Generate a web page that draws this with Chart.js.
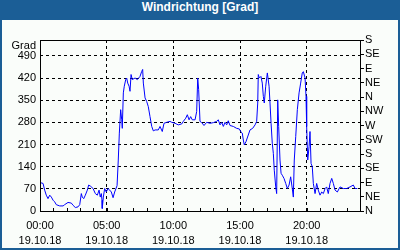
<!DOCTYPE html>
<html><head><meta charset="utf-8">
<script src="https://cdn.jsdelivr.net/npm/chart.js@4.4.1/dist/chart.umd.min.js"></script>
<style>
html,body{margin:0;padding:0;background:#fff;}
#frame{position:relative;width:400px;height:250px;background:#1b5e96;overflow:hidden;}
#title{position:absolute;left:0;top:0;width:400px;height:20px;line-height:20px;text-align:center;color:#fff;font:bold 12px "Liberation Sans",Arial,sans-serif;}
#inner{position:absolute;left:2px;top:20px;width:396px;height:228px;background:#fafdfa;}
canvas{display:block;}
</style></head>
<body>
<div id="frame"><div id="title">Windrichtung [Grad]</div><div id="inner"><canvas id="c" width="396" height="228"></canvas></div></div>
<script>
const chartTitle = 'Windrichtung [Grad]';
const dateLabel = '19.10.18';
const yUnit = 'Grad';
const xTicks = [0, 5, 10, 15, 20];
const yTicks = [0, 70, 140, 210, 280, 350, 420, 490];
const compassTicks = [0, 45, 90, 135, 180, 225, 270, 315, 360, 405, 450, 495, 540];
const compassLabels = ['N','NE','E','SE','S','SW','W','NW','N','NE','E','SE','S'];

const hours = [
  0.00,0.23,0.35,0.47,0.60,0.73,0.85,0.98,1.10,1.22,1.48,1.73,1.85,2.10,2.35,2.48,2.65,2.85,2.98,
  3.10,3.17,3.28,3.40,3.55,3.65,3.80,3.98,4.15,4.30,4.43,4.52,4.60,4.65,4.67,4.75,4.85,4.97,
  5.10,5.23,5.35,5.48,5.60,5.78,5.87,5.95,6.05,6.13,6.17,6.25,6.32,6.43,6.50,6.58,6.68,6.75,6.83,6.92,
  7.13,7.30,7.50,7.63,7.70,7.75,7.88,8.00,8.12,8.25,8.38,8.50,8.63,8.87,9.00,9.17,9.30,9.50,9.75,9.88,
  10.13,10.37,10.63,10.75,10.93,11.05,11.18,11.30,11.42,11.63,11.75,11.83,11.90,12.00,12.13,12.30,12.50,12.75,
  13.00,13.25,13.37,13.50,13.63,13.75,13.88,14.00,14.12,14.25,14.50,14.75,14.95,15.05,15.17,15.25,15.32,15.45,15.62,15.75,15.95,
  16.13,16.25,16.33,16.37,16.45,16.57,16.67,16.75,16.82,16.93,17.05,17.18,17.25,17.33,17.42,17.50,17.57,17.68,17.75,17.83,17.90,
  18.00,18.08,18.17,18.30,18.43,18.55,18.68,18.80,18.92,19.00,19.07,19.18,19.30,19.43,19.55,19.67,19.75,19.88,19.95,
  20.00,20.08,20.18,20.25,20.33,20.42,20.50,20.63,20.75,20.87,21.00,21.13,21.25,21.38,21.50,21.62,21.75,21.88,
  22.00,22.13,22.30,22.50,22.75,23.00,23.25,23.50,23.63,23.80
];
const directions = [
  90,87,66,50,39,50,44,34,29,20,16,16,20,27,25,18,11,13,20,
  55,44,39,50,66,82,78,71,55,50,66,44,55,34,8,44,71,60,
  71,66,60,42,60,80,161,246,320,288,261,373,394,415,420,404,394,378,431,415,
  420,415,425,441,447,404,357,346,330,298,267,253,256,256,267,251,277,280,283,280,
  277,272,275,283,293,304,288,298,288,288,314,420,383,283,279,270,280,277,
  279,283,288,272,280,267,280,272,285,270,267,261,259,251,246,224,209,219,240,256,261,
  272,283,341,431,420,425,404,362,341,394,436,394,341,277,214,182,129,76,55,351,267,
  161,119,113,103,87,71,82,108,71,44,161,235,320,373,404,436,440,420,362,
  267,161,203,251,150,140,87,55,87,66,50,60,55,71,76,55,87,103,
  87,66,60,76,71,71,76,82,71,71
];

const font11 = {family: '"Liberation Sans", Arial, sans-serif', size: 11, lineHeight: 15/11};

const framePlugin = {
  id: 'frame',
  afterDraw(chart) {
    const {ctx, chartArea: a, scales} = chart;
    ctx.save();
    ctx.strokeStyle = '#000';
    ctx.lineWidth = 1;
    ctx.strokeRect(Math.round(a.left) + 0.5, Math.round(a.top) + 0.5, Math.round(a.right - a.left), Math.round(a.bottom - a.top));
    ctx.beginPath();
    for (let h = 1; h <= 24; h++) {
      const x = Math.round(scales.x.getPixelForValue(h)) + 0.5;
      ctx.moveTo(x, Math.round(a.bottom));
      ctx.lineTo(x, Math.round(a.bottom) - 3);
    }
    ctx.stroke();
    ctx.fillStyle = '#000';
    ctx.font = '11px "Liberation Sans", Arial, sans-serif';
    ctx.textAlign = 'right';
    ctx.textBaseline = 'middle';
    ctx.fillText(yUnit, a.left - 4, a.top + 6);
    ctx.restore();
  }
};

new Chart(document.getElementById('c'), {
  type: 'line',
  data: {
    datasets: [{
      data: hours.map((h, i) => ({x: h, y: directions[i]})),
      borderColor: '#0000ff',
      borderWidth: 1,
      pointRadius: 0,
      fill: false,
      tension: 0,
      yAxisID: 'y'
    }]
  },
  options: {
    responsive: false,
    animation: false,
    layout: {padding: {top: 20, left: 0, right: 0, bottom: 0}},
    plugins: {legend: {display: false}, tooltip: {enabled: false}, title: {display: false}},
    scales: {
      x: {
        type: 'linear', min: 0, max: 24, position: 'bottom',
        afterBuildTicks: s => { s.ticks = xTicks.map(v => ({value: v})); },
        afterFit: s => { s.height = 37; },
        grid: {color: c => (c.tick && c.tick.value === 0) ? 'rgba(0,0,0,0)' : '#000', drawTicks: false, lineWidth: 1},
        border: {display: false, dash: [3, 3]},
        ticks: {autoSkip: false, maxRotation: 0, padding: 7, color: '#000', font: font11,
          callback: v => [String(v).padStart(2, '0') + ':00', dateLabel]}
      },
      y: {
        type: 'linear', min: 0, max: 540, position: 'left',
        afterBuildTicks: s => { s.ticks = yTicks.map(v => ({value: v})); },
        afterFit: s => { s.width = 38; },
        grid: {color: c => (c.tick && c.tick.value === 0) ? 'rgba(0,0,0,0)' : '#000', drawTicks: false, lineWidth: 1},
        border: {display: false, dash: [3, 3]},
        ticks: {autoSkip: false, padding: 4, color: '#000', font: font11, callback: v => String(v)}
      },
      y2: {
        type: 'linear', min: 0, max: 540, position: 'right',
        afterBuildTicks: s => { s.ticks = compassTicks.map(v => ({value: v})); },
        afterFit: s => { s.width = 38; },
        grid: {drawOnChartArea: false, drawTicks: true, tickLength: 4, tickColor: '#000', color: '#000'},
        border: {display: false},
        ticks: {autoSkip: false, padding: 1, color: '#000', font: font11,
          callback: v => compassLabels[compassTicks.indexOf(v)]}
      }
    }
  },
  plugins: [framePlugin]
});
</script>
</body></html>
